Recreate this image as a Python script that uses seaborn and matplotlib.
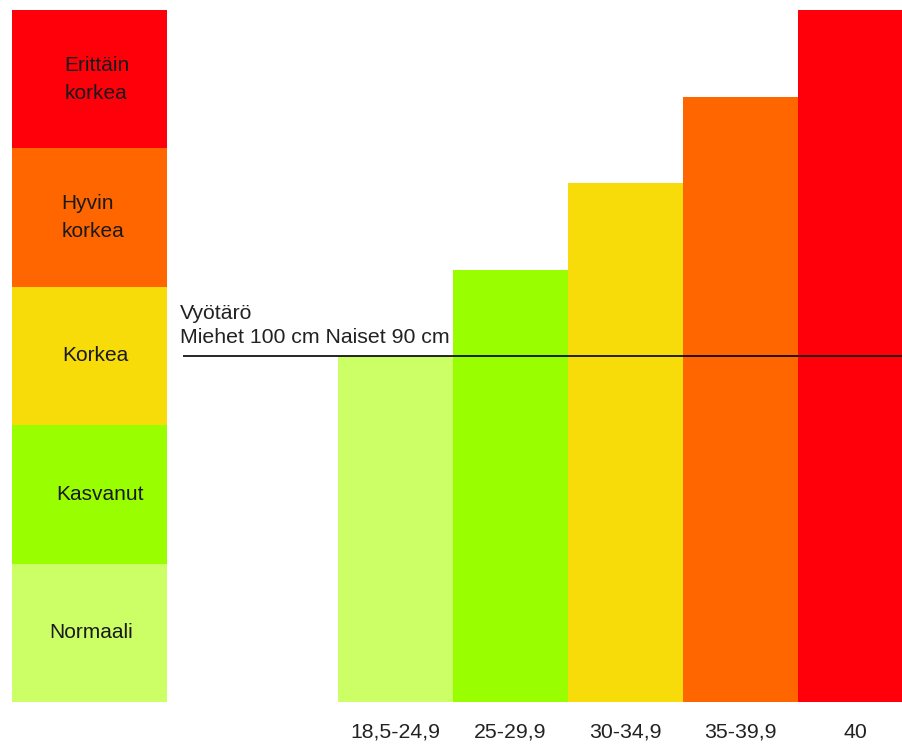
import matplotlib
matplotlib.use("Agg")
import matplotlib.pyplot as plt
import matplotlib.transforms as mtransforms
import seaborn as sns

# ---- data ----
levels = ["Erittäin\nkorkea", "Hyvin\nkorkea", "Korkea", "Kasvanut", "Normaali"]
level_span = [1, 1, 1, 1, 1]
level_colors = ["#FF000A", "#FF6600", "#F7DC0A", "#99FF00", "#CCFF66"]

bmi_classes = ["18,5-24,9", "25-29,9", "30-34,9", "35-39,9", "40"]
bar_values = [20, 25, 30, 35, 40]
bar_colors = ["#CCFF66", "#99FF00", "#F7DC0A", "#FF6600", "#FF000A"]

waist_value = 20
waist_label = "Vyötärö\nMiehet 100 cm Naiset 90 cm"

# ---- style ----
sns.set_style("white")
plt.rcParams["font.family"] = ["Liberation Sans", "DejaVu Sans"]

W, H = 902, 751
fig = plt.figure(figsize=(W / 100, H / 100), dpi=100)
fig.patch.set_facecolor("white")

def frac(x0, y0, x1, y1):
    return [x0 / W, (H - y1) / H, (x1 - x0) / W, (y1 - y0) / H]

# ---- left risk-level column ----
ax1 = fig.add_axes(frac(12, 10, 167, 702))
sns.barplot(x=level_span, y=levels, hue=levels, palette=level_colors,
            orient="h", width=1.0, saturation=1, legend=False,
            linewidth=0, ax=ax1)
ax1.set_xlim(0, 1)
ax1.set_ylim(len(levels) - 0.5, -0.5)
label_x = [0.55, 0.52, 0.54, 0.57, 0.51]
for i, lab in enumerate(levels):
    ax1.text(label_x[i], i, lab, ha="center", va="center", multialignment="left",
             fontsize=15, color="#1a1a1a", linespacing=1.6)
ax1.set_axis_off()

# ---- right bar chart ----
ax2 = fig.add_axes(frac(183, 10, 902, 702))
sns.barplot(x=bmi_classes, y=bar_values, hue=bmi_classes, palette=bar_colors,
            width=1.0, saturation=1, legend=False, linewidth=0, ax=ax2)
ax2.set_xlim(-1.848, 4.404)
ax2.set_ylim(0, 40)
ax2.axhline(waist_value, color="black", lw=1.2, zorder=5)
trans = mtransforms.blended_transform_factory(ax2.transAxes, ax2.transData)
ax2.text(-3 / 719, waist_value + 0.5, waist_label, transform=trans,
         ha="left", va="bottom", fontsize=15.3, color="#222222",
         linespacing=1.35)
ax2.set_yticks([])
ax2.set_xlabel("")
ax2.set_ylabel("")
ax2.tick_params(axis="x", length=0, pad=15, labelsize=15.3, labelcolor="#222222")
for s in ax2.spines.values():
    s.set_visible(False)

fig.savefig("out.png", dpi=100, facecolor="white")
